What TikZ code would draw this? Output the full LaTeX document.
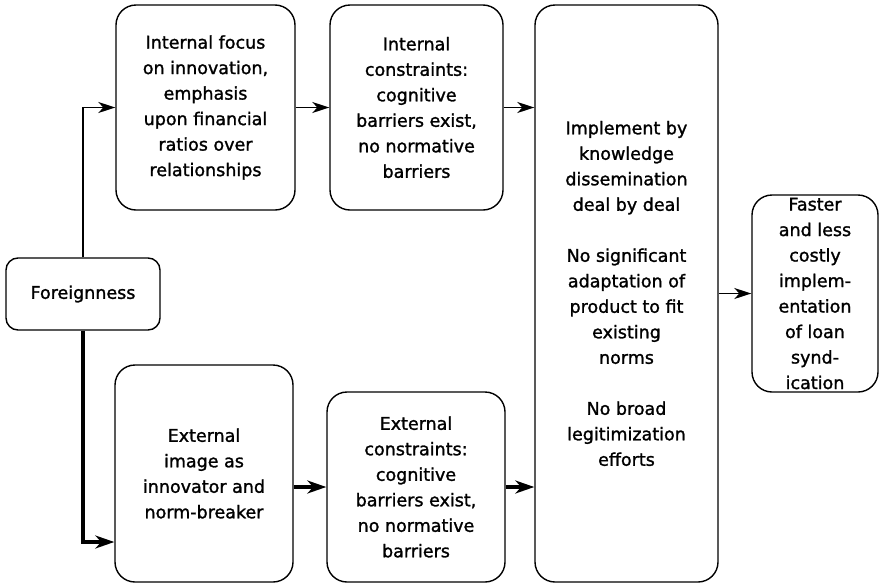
\documentclass[tikz,border=0pt]{standalone}
\usepackage{fontspec}
\setmainfont{DejaVu Sans}
\newfontfamily\boxfont{DejaVu Sans}[FakeBold=1.4]
\usetikzlibrary{arrows.meta}
\begin{document}
\begin{tikzpicture}[x=1pt,y=-1pt,
  box/.style={draw, line width=1.4pt, rounded corners=20pt, align=center,
    inner sep=0pt, font=\boxfont\fontsize{17.5}{25.5}\selectfont},
  smallbox/.style={box, rounded corners=12pt},
  link/.style={line width=1.3pt, -{Stealth[length=17pt,width=11pt,inset=5pt]}},
  heavylink/.style={line width=4pt, -{Stealth[length=19pt,width=13pt,inset=6pt]}}]
\useasboundingbox (0,0) rectangle (881,584);

% source box
\node[smallbox, minimum width=154pt, minimum height=72pt] (fr) at (83,294) {Foreignness};

% upper row
\node[box, minimum width=179pt, minimum height=205pt] (b1) at (205.5,107.5)
  {Internal focus\\on innovation,\\emphasis\\upon financial\\ratios over\\relationships};
\node[box, minimum width=173pt, minimum height=205pt] (b2) at (416.5,107.5)
  {Internal\\constraints:\\cognitive\\barriers exist,\\no normative\\barriers};

% lower row
\node[box, minimum width=178pt, minimum height=217pt] (b4) at (204,473.5)
  {External\\image as\\innovator and\\norm-breaker};
\node[box, minimum width=178pt, minimum height=190pt] (b5) at (416,487)
  {External\\constraints:\\cognitive\\barriers exist,\\no normative\\barriers};

% implementation column
\node[box, minimum width=183pt, minimum height=577pt] (b3) at (626.5,293.5)
  {Implement by\\knowledge\\dissemination\\deal by deal\\[25.5pt]No significant\\adaptation of\\product to fit\\existing\\norms\\[25.5pt]No broad\\legitimization\\efforts};

% outcome
\node[box, minimum width=126pt, minimum height=197pt] (b6) at (815,293.5)
  {Faster\\and less\\costly\\implem-\\entation\\of loan\\synd-\\ication};

% connectors
\draw[link] (fr.north) |- (b1.west);
\draw[link] (b1.east) -- (b2.west);
\draw[link] (b2.east) -- (b2.east -| b3.west);
\draw[heavylink] (fr.south) |- ([yshift=-68.5pt]b4.west);
\draw[heavylink] (b4.east |- b5.west) -- (b5.west);
\draw[heavylink] (b5.east) -- (b5.east -| b3.west);
\draw[link] (b3.east) -- (b3.east -| b6.west);
\end{tikzpicture}
\end{document}
